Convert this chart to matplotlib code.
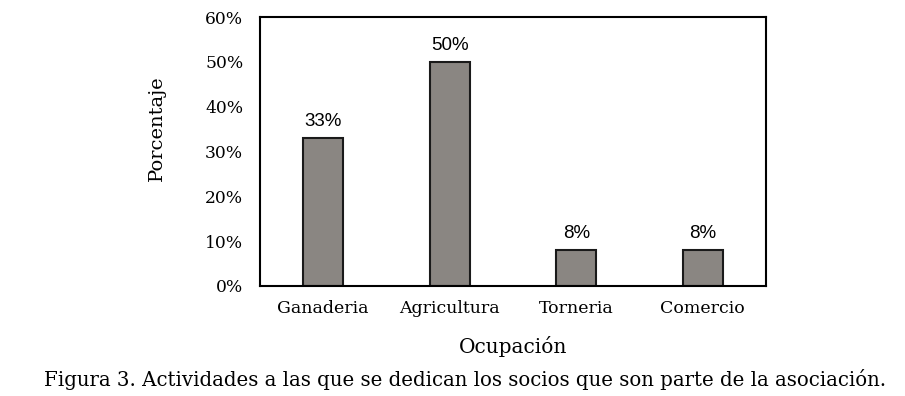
import matplotlib.pyplot as plt

# Datos
ocupaciones = ["Ganaderia", "Agricultura", "Torneria", "Comercio"]
porcentajes = [33, 50, 8, 8]
etiquetas = ["33%", "50%", "8%", "8%"]
yticks = [0, 10, 20, 30, 40, 50, 60]

plt.rcParams.update({"font.family": "DejaVu Serif"})

fig = plt.figure(figsize=(9.05, 3.96), dpi=100)
ax = fig.add_axes([260 / 905, 1 - 286 / 396, 506 / 905, 269 / 396])

x = range(len(ocupaciones))
ax.bar(x, porcentajes, width=0.32, color="#8a8682", edgecolor="#1a1a1a", linewidth=1.5)

for xi, v, lab in zip(x, porcentajes, etiquetas):
    ax.annotate(lab, (xi, v), xytext=(0, 12), textcoords="offset points",
                ha="center", va="center", fontsize=13.5, family="Liberation Sans")

ax.set_xlim(-0.5, len(ocupaciones) - 0.5)
ax.set_ylim(0, 60)
ax.set_yticks(yticks)
ax.set_yticklabels([f"{t}%" for t in yticks], fontsize=12.3)
ax.set_xticks(list(x))
ax.set_xticklabels(ocupaciones, fontsize=12.5)
ax.tick_params(axis="y", length=0, pad=12)
ax.tick_params(axis="x", length=0, pad=10)

for s in ax.spines.values():
    s.set_linewidth(1.5)

ax.set_ylabel("Porcentaje", fontsize=14)
ax.yaxis.set_label_coords(-0.186, 0.587)
ax.set_xlabel("Ocupación", fontsize=14.5, labelpad=14)

fig.text(465 / 905, 1 - 379 / 396, "Figura 3. Actividades a las que se dedican los socios que son parte de la asociación.",
         ha="center", va="center", fontsize=14.2)

fig.savefig("out.png", dpi=100)
